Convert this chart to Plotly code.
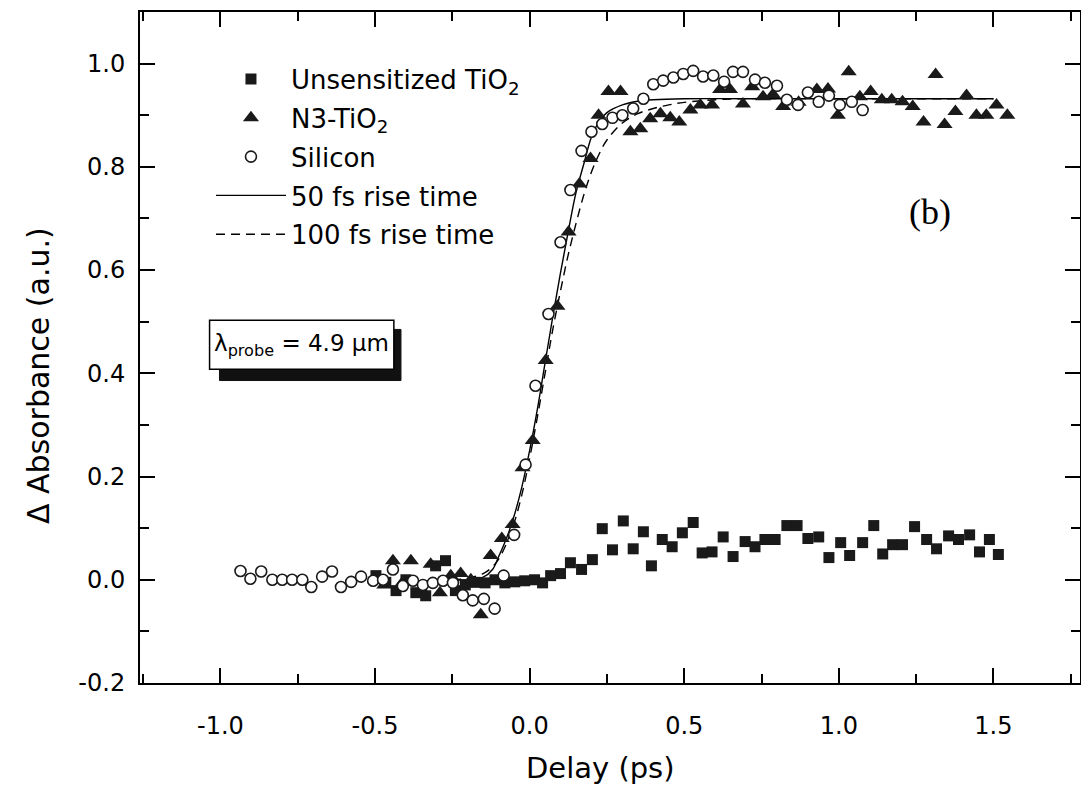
import plotly.graph_objects as go

# ---------------- data ----------------
# Unsensitized TiO2 (filled squares)
sq_x = [-0.497, -0.465, -0.432, -0.400, -0.368, -0.336, -0.304, -0.272, -0.240, -0.208,
        -0.176, -0.144, -0.112, -0.080, -0.048, -0.016, 0.016, 0.042, 0.068, 0.100,
        0.132, 0.168, 0.203, 0.235, 0.268, 0.303, 0.335, 0.368, 0.394, 0.429,
        0.461, 0.494, 0.529, 0.558, 0.590, 0.626, 0.658, 0.697, 0.729, 0.761,
        0.794, 0.832, 0.865, 0.900, 0.935, 0.968, 1.006, 1.035, 1.077, 1.113,
        1.142, 1.174, 1.206, 1.245, 1.284, 1.316, 1.355, 1.387, 1.423, 1.455,
        1.487, 1.516]
sq_y = [0.008, -0.005, -0.021, 0.000, -0.025, -0.031, 0.027, 0.037, -0.021, -0.010,
        -0.005, -0.006, 0.000, -0.006, -0.004, -0.002, 0.000, -0.006, 0.008, 0.012,
        0.033, 0.020, 0.039, 0.099, 0.058, 0.114, 0.060, 0.093, 0.027, 0.078,
        0.064, 0.091, 0.111, 0.052, 0.054, 0.083, 0.045, 0.074, 0.064, 0.078,
        0.078, 0.105, 0.105, 0.080, 0.083, 0.043, 0.072, 0.047, 0.072, 0.105,
        0.050, 0.068, 0.068, 0.103, 0.078, 0.060, 0.085, 0.078, 0.087, 0.054,
        0.078, 0.049]

# N3-TiO2 (filled triangles)
tri_x = [-0.500, -0.470, -0.442, -0.410, -0.384, -0.350, -0.320, -0.290, -0.255, -0.223,
         -0.190, -0.158, -0.126, -0.090, -0.055, -0.023, 0.010, 0.052, 0.090, 0.126,
         0.161, 0.197, 0.223, 0.255, 0.294, 0.326, 0.358, 0.390, 0.423, 0.455,
         0.484, 0.520, 0.552, 0.590, 0.616, 0.648, 0.690, 0.720, 0.755, 0.787,
         0.820, 0.870, 0.929, 0.965, 0.997, 1.032, 1.068, 1.103, 1.139, 1.171,
         1.206, 1.239, 1.274, 1.313, 1.342, 1.377, 1.413, 1.445, 1.477, 1.510,
         1.545]
tri_y = [0.000, -0.010, 0.037, -0.005, 0.037, -0.020, 0.030, -0.025, 0.008, 0.012,
         0.000, -0.068, 0.047, 0.080, 0.107, 0.217, 0.270, 0.425, 0.530, 0.674,
         0.767, 0.816, 0.900, 0.946, 0.946, 0.868, 0.874, 0.893, 0.903, 0.895,
         0.887, 0.910, 0.920, 0.920, 0.950, 0.950, 0.922, 0.955, 0.936, 0.940,
         0.917, 0.925, 0.950, 0.951, 0.900, 0.984, 0.936, 0.946, 0.930, 0.930,
         0.926, 0.917, 0.887, 0.979, 0.882, 0.907, 0.938, 0.900, 0.900, 0.920,
         0.900]

# Silicon (open circles)
si_x = [-0.935, -0.903, -0.868, -0.832, -0.800, -0.768, -0.735, -0.706, -0.671, -0.639,
        -0.610, -0.577, -0.545, -0.506, -0.474, -0.442, -0.410, -0.377, -0.345, -0.313,
        -0.280, -0.248, -0.216, -0.184, -0.148, -0.113, -0.084, -0.050, -0.013, 0.019,
        0.061, 0.100, 0.132, 0.168, 0.200, 0.235, 0.268, 0.300, 0.335, 0.368,
        0.400, 0.432, 0.465, 0.497, 0.529, 0.561, 0.594, 0.629, 0.658, 0.690,
        0.729, 0.761, 0.800, 0.832, 0.868, 0.900, 0.935, 0.968, 1.003, 1.042,
        1.077]
si_y = [0.017, 0.002, 0.016, 0.000, 0.000, 0.000, 0.000, -0.014, 0.006, 0.016,
        -0.014, -0.004, 0.006, -0.002, 0.000, 0.020, -0.012, -0.002, -0.010, -0.006,
        -0.002, -0.006, -0.030, -0.040, -0.037, -0.056, 0.008, 0.087, 0.223, 0.376,
        0.515, 0.654, 0.755, 0.831, 0.868, 0.883, 0.895, 0.900, 0.913, 0.932,
        0.960, 0.967, 0.973, 0.980, 0.986, 0.975, 0.977, 0.965, 0.984, 0.984,
        0.969, 0.963, 0.957, 0.930, 0.920, 0.944, 0.926, 0.938, 0.920, 0.926,
        0.910]

# 50 fs rise-time fit (solid line)
fit50_x = [-0.25, -0.20, -0.15, -0.12, -0.10, -0.075, -0.05, -0.025, 0.00, 0.025,
           0.05, 0.075, 0.10, 0.125, 0.15, 0.175, 0.20, 0.225, 0.25, 0.30,
           0.35, 0.40, 0.50, 0.70, 1.00, 1.50]
fit50_y = [0.000, 0.000, 0.005, 0.020, 0.045, 0.080, 0.124, 0.180, 0.250, 0.330,
           0.420, 0.510, 0.595, 0.675, 0.750, 0.805, 0.858, 0.888, 0.905, 0.920,
           0.927, 0.930, 0.932, 0.932, 0.932, 0.932]

# 100 fs rise-time fit (dashed line)
fit100_x = [-0.25, -0.20, -0.15, -0.12, -0.10, -0.075, -0.05, -0.025, 0.00, 0.025,
            0.05, 0.075, 0.10, 0.125, 0.15, 0.175, 0.20, 0.225, 0.25, 0.30,
            0.35, 0.40, 0.45, 0.50, 0.60, 0.70, 1.00, 1.50]
fit100_y = [0.000, 0.003, 0.012, 0.025, 0.040, 0.070, 0.110, 0.165, 0.235, 0.315,
            0.400, 0.485, 0.560, 0.630, 0.690, 0.745, 0.790, 0.825, 0.852, 0.885,
            0.903, 0.913, 0.920, 0.925, 0.930, 0.932, 0.932, 0.932]

x_ticks = [-1.0, -0.5, 0.0, 0.5, 1.0, 1.5]
x_tick_labels = ["-1.0", "-0.5", "0.0", "0.5", "1.0", "1.5"]
y_ticks = [-0.2, 0.0, 0.2, 0.4, 0.6, 0.8, 1.0]
y_tick_labels = ["-0.2", "0.0", "0.2", "0.4", "0.6", "0.8", "1.0"]

FONT = "DejaVu Sans, Verdana, sans-serif"

fig = go.Figure()

fig.add_trace(go.Scatter(x=fit50_x, y=fit50_y, mode="lines", line_shape="spline",
                         line=dict(color="black", width=1.4),
                         name="50 fs rise time", legendrank=4, legendgroup="g4"))
fig.add_trace(go.Scatter(x=fit100_x, y=fit100_y, mode="lines", line_shape="spline",
                         line=dict(color="black", width=1.4, dash="9px,6px"),
                         name="100 fs rise time", legendrank=5, legendgroup="g5"))
fig.add_trace(go.Scatter(x=sq_x, y=sq_y, mode="markers",
                         marker=dict(symbol="square", size=11, color="#1a1a1a"),
                         name="Unsensitized TiO<sub>2</sub>", legendrank=1,
                         legendgroup="g1"))
fig.add_trace(go.Scatter(x=tri_x, y=tri_y, mode="markers",
                         marker=dict(symbol="triangle-up", size=14, color="#1a1a1a"),
                         name="N3-TiO<sub>2</sub>", legendrank=2, legendgroup="g2"))
fig.add_trace(go.Scatter(x=si_x, y=si_y, mode="markers",
                         marker=dict(symbol="circle", size=11, color="white",
                                     line=dict(color="#1a1a1a", width=1.6)),
                         name="Silicon", legendrank=3, legendgroup="g3"))

# lambda_probe box with shadow
fig.add_shape(type="rect", x0=-1.003, x1=-0.416, y0=0.386, y1=0.485,
              fillcolor="#111111", line=dict(color="#111111", width=1))
fig.add_shape(type="rect", x0=-1.035, x1=-0.439, y0=0.408, y1=0.503,
              fillcolor="white", line=dict(color="black", width=1.5))
fig.add_annotation(x=-0.737, y=0.455, text="λ<sub>probe</sub> = 4.9 µm",
                   showarrow=False, font=dict(family=FONT, size=23, color="black"))
fig.add_annotation(x=1.294, y=0.712, text="(b)", showarrow=False,
                   font=dict(family="Liberation Serif, Times New Roman, serif", size=36,
                             color="black"))
# axis titles (placed as in the original)
fig.add_annotation(xref="paper", yref="paper", x=-0.1085, y=0.4575,
                   xanchor="center", yanchor="middle",
                   text="Δ Absorbance (a.u.)", textangle=-90, showarrow=False,
                   font=dict(family=FONT, size=30, color="black"))
fig.add_annotation(xref="paper", yref="paper", x=0.4904, y=-0.1267,
                   xanchor="center", yanchor="middle",
                   text="Delay (ps)", showarrow=False,
                   font=dict(family=FONT, size=29, color="black"))

axis_common = dict(showline=True, linecolor="black", linewidth=2, mirror="allticks",
                   ticks="inside", ticklen=15, tickwidth=1.5, tickcolor="black",
                   showgrid=False, zeroline=False, automargin=False,
                   tickfont=dict(family=FONT, size=24, color="black"))

fig.update_xaxes(range=[-1.26, 1.78], tickvals=x_ticks, ticktext=x_tick_labels,
                 minor=dict(dtick=0.25, tick0=0, ticks="inside", ticklen=9,
                            tickcolor="black", tickwidth=1.5),
                 ticklabelstandoff=20, **axis_common)
fig.update_yaxes(range=[-0.2, 1.1], tickvals=y_ticks, ticktext=y_tick_labels,
                 minor=dict(dtick=0.1, tick0=0, ticks="inside", ticklen=9,
                            tickcolor="black", tickwidth=1.5),
                 ticklabelstandoff=8, **axis_common)

# the page body adds an 8 px offset, so the figure is drawn 8 px smaller
fig.update_layout(
    width=1081, height=784,
    margin=dict(l=132, r=9, t=4, b=109, autoexpand=False),
    paper_bgcolor="white", plot_bgcolor="white",
    showlegend=True,
    legend=dict(x=0.0755, y=0.935, xanchor="left", yanchor="top",
                bgcolor="rgba(0,0,0,0)", font=dict(family=FONT, size=26, color="black"),
                itemwidth=70, traceorder="grouped", tracegroupgap=2),
    font=dict(family=FONT, color="black"),
)

fig.write_html("out.html")
